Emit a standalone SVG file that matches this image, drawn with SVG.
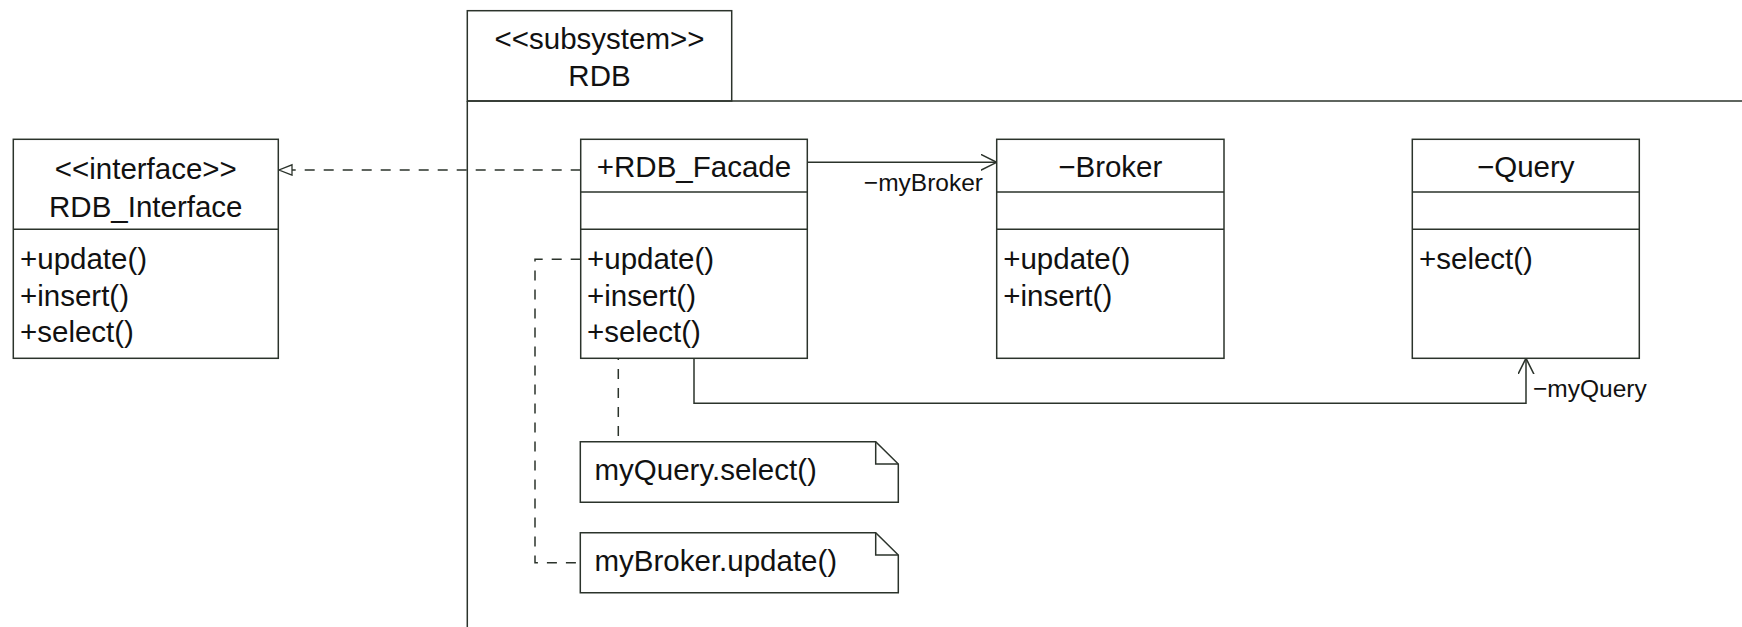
<svg xmlns="http://www.w3.org/2000/svg" width="1742" height="627" viewBox="0 0 1742 627">
<style>
.box{fill:#fff;stroke:#2b332b;stroke-width:1.5}
.ln{fill:none;stroke:#2b332b;stroke-width:1.5}
.dash{fill:none;stroke:#2b332b;stroke-width:1.5;stroke-dasharray:10 9}
text{font-family:"Liberation Sans",Arial,sans-serif;font-size:29.5px;fill:#111}
.c{text-anchor:middle}
.lbl{font-size:24.5px}
</style>
<defs>
<marker id="open" markerWidth="20" markerHeight="20" refX="16" refY="8" orient="auto" markerUnits="userSpaceOnUse">
<path d="M0,0 L16,8 L0,16" fill="none" stroke="#2b332b" stroke-width="1.5"/>
</marker>
<marker id="tri" markerWidth="18" markerHeight="14" refX="14" refY="6" orient="auto" markerUnits="userSpaceOnUse">
<path d="M1,0.8 L14,6 L1,11.2 Z" fill="#fff" stroke="#2b332b" stroke-width="1.3"/>
</marker>
</defs>

<g id="subsystem-RDB">
<rect class="box" x="467.3" y="10.7" width="264.4" height="90.3"/>
<path class="ln" d="M467.3,101 L1742,101 M467.3,101 L467.3,627"/>
<text class="c" x="599.5" y="48.5">&lt;&lt;subsystem&gt;&gt;</text>
<text class="c" x="599.5" y="86">RDB</text>
</g>

<g id="connectors">
<path class="dash" d="M580.7,170 L279,170" marker-end="url(#tri)"/>
<path class="ln" d="M807.3,162.3 L996.7,162.3" marker-end="url(#open)"/>
<text class="lbl" x="983" y="191" text-anchor="end">−myBroker</text>
<path class="ln" d="M694,358.3 L694,403.3 L1526,403.3 L1526,358.3" marker-end="url(#open)"/>
<text class="lbl" x="1533" y="397">−myQuery</text>
<path class="dash" d="M618.3,350 L618.3,441.7"/>
<path class="dash" d="M580.7,259.3 L535,259.3 L535,562.7 L580.3,562.7"/>
</g>

<g id="RDB_Interface">
<rect class="box" x="13.3" y="139.3" width="265" height="219"/>
<path class="ln" d="M13.3,229.3 L278.3,229.3"/>
<text class="c" x="145.8" y="179">&lt;&lt;interface&gt;&gt;</text>
<text class="c" x="145.8" y="217">RDB_Interface</text>
<text x="20" y="269">+update()</text>
<text x="20" y="305.5">+insert()</text>
<text x="20" y="342">+select()</text>
</g>

<g id="RDB_Facade">
<rect class="box" x="580.7" y="139.3" width="226.6" height="219"/>
<path class="ln" d="M580.7,192 L807.3,192 M580.7,229.3 L807.3,229.3"/>
<text class="c" x="694" y="176.5">+RDB_Facade</text>
<text x="587" y="269">+update()</text>
<text x="587" y="305.5">+insert()</text>
<text x="587" y="342">+select()</text>
</g>

<g id="Broker">
<rect class="box" x="996.7" y="139.3" width="227.3" height="219"/>
<path class="ln" d="M996.7,192 L1224,192 M996.7,229.3 L1224,229.3"/>
<text class="c" x="1110.3" y="176.5">−Broker</text>
<text x="1003.2" y="269">+update()</text>
<text x="1003.2" y="305.5">+insert()</text>
</g>

<g id="Query">
<rect class="box" x="1412.3" y="139.3" width="227" height="219"/>
<path class="ln" d="M1412.3,192 L1639.3,192 M1412.3,229.3 L1639.3,229.3"/>
<text class="c" x="1525.8" y="176.5">−Query</text>
<text x="1419" y="269">+select()</text>
</g>

<g id="note-myQuery">
<path class="box" d="M580.3,441.7 L875.7,441.7 L898.3,464 L898.3,502.3 L580.3,502.3 Z"/>
<path class="ln" d="M875.7,441.7 L875.7,464 L898.3,464"/>
<text x="594.5" y="479.5">myQuery.select()</text>
</g>

<g id="note-myBroker">
<path class="box" d="M580.3,532.7 L875.7,532.7 L898.3,555 L898.3,592.7 L580.3,592.7 Z"/>
<path class="ln" d="M875.7,532.7 L875.7,555 L898.3,555"/>
<text x="594.5" y="570.5">myBroker.update()</text>
</g>
</svg>
